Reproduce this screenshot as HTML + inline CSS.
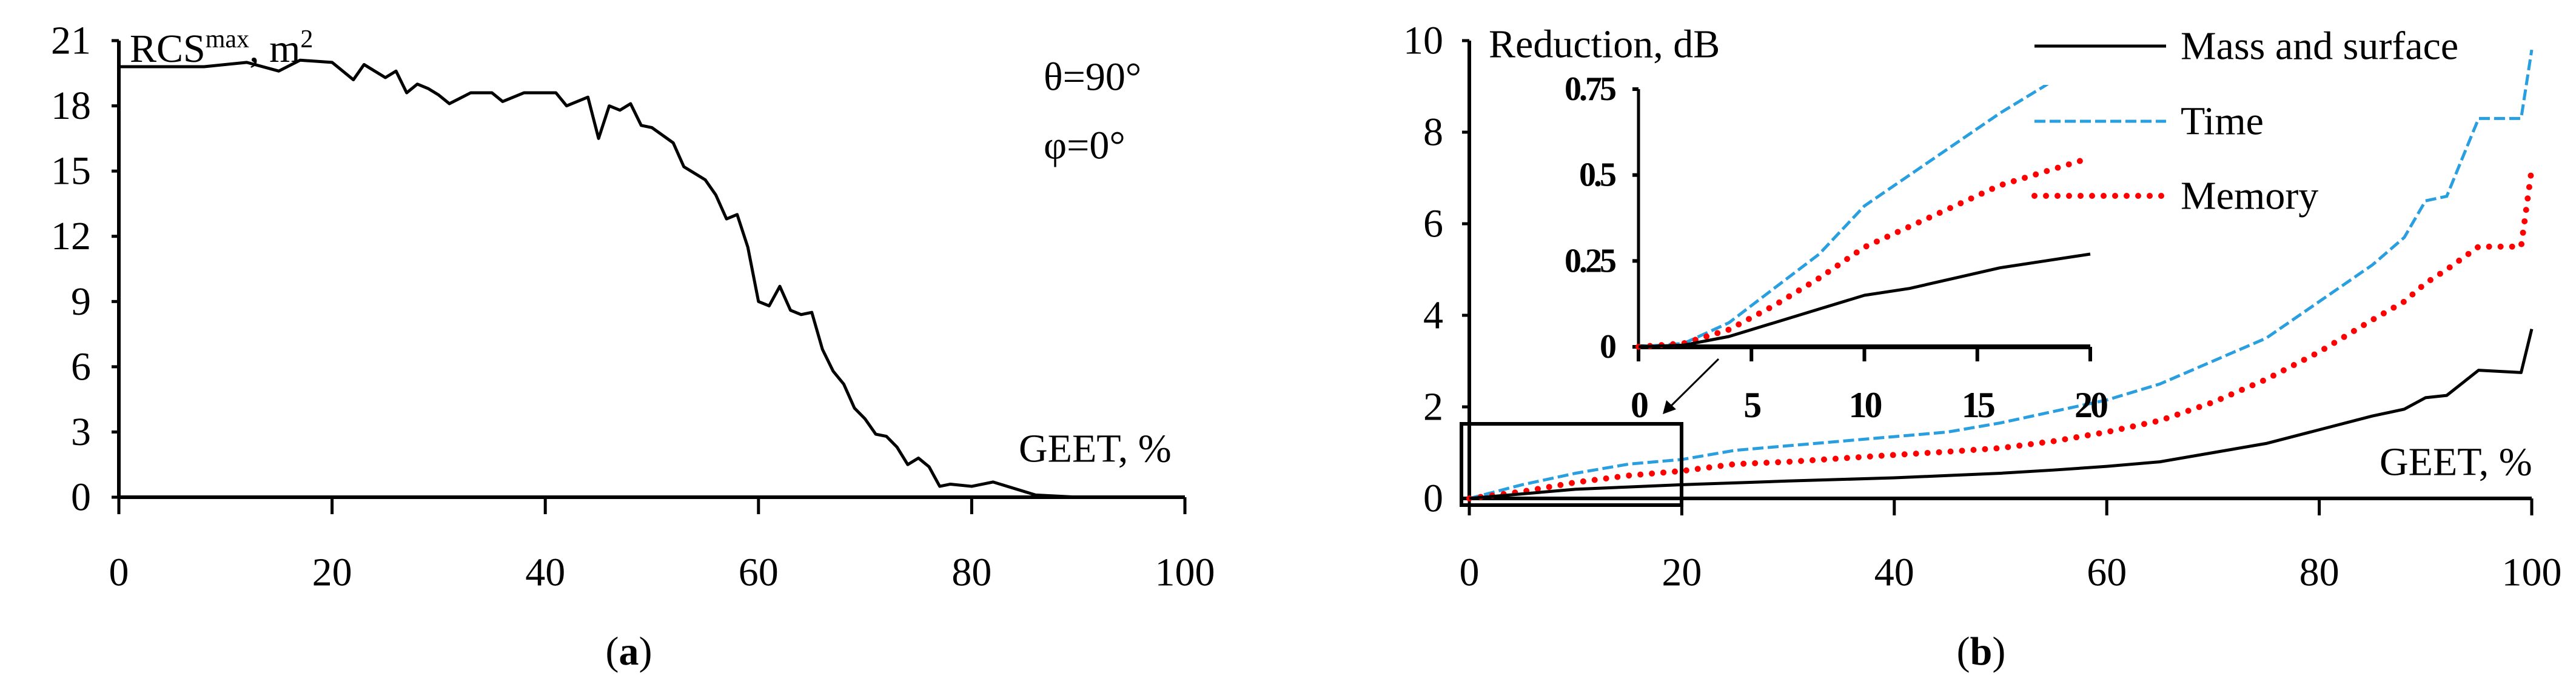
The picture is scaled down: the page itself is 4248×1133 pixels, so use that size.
<!DOCTYPE html>
<html><head><meta charset="utf-8"><style>
html,body{margin:0;padding:0;background:#fff;}
svg{display:block;font-family:"Liberation Serif",serif;}
</style></head><body>
<svg id="c" width="4248" height="1133" viewBox="0 0 4248 1133"></svg>
<script>
const leftX=[0,8,12,15,17,20,22,23,25,26,27,28,29,30,31,33,35,36,38,41,42,44,45,46,47,48,49,50,52,53,55,56,57,58,59,60,61,62,63,64,65,66,67,68,69,70,71,72,73,74,75,76,77,78,80,82,84,86,90];
const leftY=[19.8,19.8,20.0,19.6,20.1,20.0,19.2,19.9,19.3,19.6,18.6,19.0,18.8,18.5,18.1,18.6,18.6,18.2,18.6,18.6,18.0,18.4,16.5,18.0,17.8,18.1,17.1,17.0,16.3,15.2,14.6,13.9,12.8,13.0,11.5,9.0,8.8,9.7,8.6,8.4,8.5,6.8,5.8,5.2,4.1,3.6,2.9,2.8,2.3,1.5,1.8,1.4,0.5,0.6,0.5,0.7,0.4,0.1,0];
const leftYTicks=[0,3,6,9,12,15,18,21];
const xTicks=[0,20,40,60,80,100];
const rightX=[0,5,10,15,20,25,30,40,45,50,55,60,65,70,75,80,85,88,90,92,95,99,100];
const massY=[0,0.1,0.2,0.25,0.3,0.34,0.38,0.45,0.5,0.55,0.62,0.7,0.8,1.0,1.2,1.5,1.8,1.95,2.2,2.25,2.8,2.75,3.7];
const timeY=[0,0.3,0.55,0.75,0.85,1.05,1.15,1.35,1.45,1.65,1.9,2.15,2.5,3.0,3.5,4.3,5.1,5.7,6.5,6.6,8.3,8.3,9.8];
const memY=[0,0.15,0.35,0.5,0.6,0.75,0.8,0.95,1.02,1.1,1.25,1.45,1.7,2.1,2.6,3.2,3.9,4.3,4.7,5.0,5.5,5.5,7.2];
const rightYTicks=[0,2,4,6,8,10];
const insetX=[0,2,4,6,8,10,12,14,16,18,20];
const insetMass=[0,0.005,0.03,0.07,0.11,0.15,0.17,0.2,0.23,0.25,0.27];
const insetTime=[0,0.01,0.07,0.17,0.27,0.41,0.5,0.59,0.68,0.76,0.85];
const insetMem=[0,0.01,0.05,0.12,0.2,0.29,0.35,0.41,0.47,0.51,0.55];
const insetXTicks=[0,5,10,15,20];
const insetYTicks=[0,0.25,0.5,0.75];
const insetYLabels=["0","0.25","0.5","0.75"];

const svg=document.getElementById('c');const NS='http://www.w3.org/2000/svg';
function el(t,a,p){const e=document.createElementNS(NS,t);for(const k in a)e.setAttribute(k,a[k]);(p||svg).appendChild(e);return e;}
function txt(x,y,s,a,p){const e=el('text',Object.assign({x:x,y:y,'font-size':66,fill:'#000','text-anchor':'middle','dominant-baseline':'central'},a||{}),p);e.textContent=s;return e;}
function lin(d0,d1,r0,r1){return v=>r0+(v-d0)/(d1-d0)*(r1-r0);}

// Left chart
const lx=lin(0,100,196,1954), ly=lin(0,21,820,67);
let g=el('g',{});
let a=el('line',{x1:196,y1:ly(21),x2:196,y2:820,stroke:'#000','stroke-width':6},g);
a=el('line',{x1:196,y1:820,x2:1954,y2:820,stroke:'#000','stroke-width':6},g);
leftYTicks.forEach(v=>{el('line',{x1:184,y1:ly(v),x2:196,y2:ly(v),stroke:'#000','stroke-width':5},g);let t=txt(150,ly(v),String(v),{'text-anchor':'end'},g);});
xTicks.forEach(v=>{el('line',{x1:lx(v),y1:820,x2:lx(v),y2:848,stroke:'#000','stroke-width':5},g);let t=txt(lx(v),944,String(v),{},g);});
let p=el('polyline',{points:leftX.map((x,i)=>lx(x)+','+ly(leftY[i])).join(' '),fill:'none',stroke:'#000','stroke-width':5,'stroke-linejoin':'round'},g);
let t=el('text',{x:214,y:102,'font-size':66},g);t.innerHTML='RCS<tspan font-size="42" dy="-24">max</tspan><tspan dy="24">, m</tspan><tspan font-size="42" dy="-24">2</tspan>';
t=txt(1721,127,'θ=90°',{'text-anchor':'start'},g);
t=txt(1721,240,'φ=0°',{'text-anchor':'start'},g);
t=txt(1680,740,'GEET, %',{'text-anchor':'start'},g);
t=el('text',{x:1037,y:1074,'font-size':66,'text-anchor':'middle','dominant-baseline':'central'},g);t.innerHTML='(<tspan font-weight="bold">a</tspan>)';

// Right chart
const rx=lin(0,100,2423,4175), ry=lin(0,10,822,67);
g=el('g',{});
a=el('line',{x1:2423,y1:ry(10),x2:2423,y2:822,stroke:'#000','stroke-width':6},g);
a=el('line',{x1:2410,y1:822,x2:4175,y2:822,stroke:'#000','stroke-width':6},g);
rightYTicks.forEach(v=>{el('line',{x1:2411,y1:ry(v),x2:2423,y2:ry(v),stroke:'#000','stroke-width':5},g);let t=txt(2380,ry(v),String(v),{'text-anchor':'end'},g);});
xTicks.forEach(v=>{el('line',{x1:rx(v),y1:822,x2:rx(v),y2:850,stroke:'#000','stroke-width':5},g);let t=txt(rx(v),944,String(v),{},g);});
function series(xs,ys,fx,fy,style,name,parent){const e=el('polyline',Object.assign({points:xs.map((x,i)=>fx(x)+','+fy(ys[i])).join(' '),fill:'none'},style),parent);return e;}
const sMass={stroke:'#000','stroke-width':5,'stroke-linejoin':'round'};
const sTime={stroke:'#2a9fe0','stroke-width':5,'stroke-dasharray':'18 7'};
const sMem={stroke:'#ff0000','stroke-width':10,'stroke-dasharray':'0 19','stroke-linecap':'round'};
series(rightX,timeY,rx,ry,sTime,'time-line',g);
series(rightX,memY,rx,ry,sMem,'memory-line',g);
series(rightX,massY,rx,ry,sMass,'mass-and-surface-line',g);
t=txt(2455,73,'Reduction, dB',{'text-anchor':'start'},g);
t=txt(3924,762,'GEET, %',{'text-anchor':'start'},g);
// legend
const leg=[['Mass and surface',sMass,76],['Time',sTime,200],['Memory',sMem,323]];
leg.forEach(l=>{let li=el('line',Object.assign({x1:3355,y1:l[2],x2:3572,y2:l[2]},l[1]),g);let tt=txt(3596,l[2],l[0],{'text-anchor':'start'},g);});
// zoom box and arrow
a=el('rect',{x:2410,y:699,width:363,height:134,fill:'none',stroke:'#000','stroke-width':6},g);
a=el('line',{x1:2834,y1:592,x2:2750,y2:675,stroke:'#000','stroke-width':3},g);
el('polygon',{points:'2742,683 2748,660 2764,675',fill:'#000'},g);
// inset
const ix=lin(0,20,2702,3447), iy=lin(0,0.75,572,147);
const ig=el('g',{},g);
el('clipPath',{id:'ic'},ig);el('rect',{x:2690,y:140,width:800,height:440},ig.lastChild);
a=el('line',{x1:2702,y1:147,x2:2702,y2:572,stroke:'#000','stroke-width':5},ig);
a=el('line',{x1:2702,y1:572,x2:3447,y2:572,stroke:'#000','stroke-width':8},ig);
insetYTicks.forEach((v,i)=>{el('line',{x1:2692,y1:iy(v),x2:2702,y2:iy(v),stroke:'#000','stroke-width':6},ig);let t=txt(2662,iy(v),insetYLabels[i],{'text-anchor':'end','font-weight':'bold','font-size':56,'letter-spacing':'-4'},ig);});
insetXTicks.forEach(v=>{el('line',{x1:ix(v),y1:572,x2:ix(v),y2:596,stroke:'#000','stroke-width':6},ig);let t=txt(ix(v),668,String(v),{'font-weight':'bold','font-size':60,'letter-spacing':'-4'},ig);});
const cg=el('g',{'clip-path':'url(#ic)'},ig);
series(insetX,insetTime,ix,iy,sTime,'inset-time-line',cg);
series(insetX,insetMem,ix,iy,sMem,'inset-memory-line',cg);
series(insetX,insetMass,ix,iy,sMass,'inset-mass-and-surface-line',cg);
t=el('text',{x:3267,y:1074,'font-size':66,'text-anchor':'middle','dominant-baseline':'central'},g);t.innerHTML='(<tspan font-weight="bold">b</tspan>)';
</script>
</body></html>
